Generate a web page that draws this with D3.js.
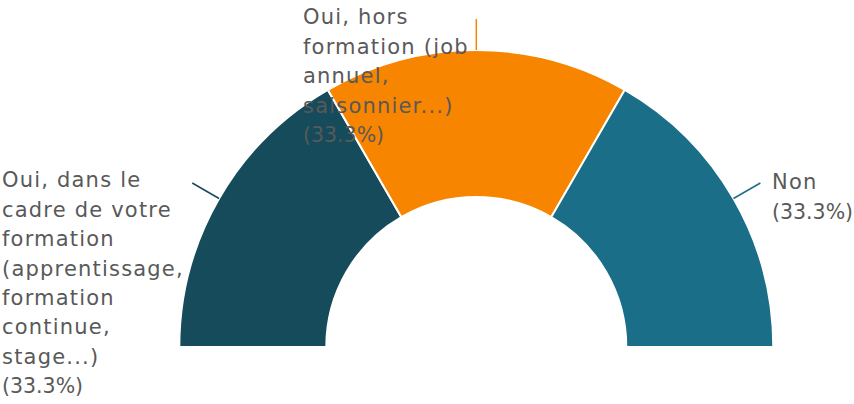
<!DOCTYPE html>
<html><head><meta charset="utf-8">
<script src="https://cdn.jsdelivr.net/npm/d3@7"></script>
<style>html,body{margin:0;padding:0;background:#fff}svg{display:block}</style>
</head><body>
<svg id="c" width="854" height="404"></svg>
<script>
const categories = [
  "Oui, dans le cadre de votre formation (apprentissage, formation continue, stage...)",
  "Oui, hors formation (job annuel, saisonnier...)",
  "Non"
];
const values = [1, 1, 1];
const percentLabels = ["(33.3%)", "(33.3%)", "(33.3%)"];
const labelLines = [
  ["Oui, dans le", "cadre de votre", "formation", "(apprentissage,", "formation", "continue,", "stage...)"],
  ["Oui, hors", "formation (job", "annuel,", "saisonnier...)"],
  ["Non"]
];
const colors = ["#154b5b", "#f88500", "#1b6e88"];

const svg = d3.select("#c");
const cx = 476.3, cy = 347, rOut = 297, rIn = 150;
const g = svg.append("g").attr("transform", `translate(${cx},${cy})`);

const pie = d3.pie().sort(null).value(d => d).startAngle(-Math.PI/2).endAngle(Math.PI/2);
const arcs = pie(values);
const arc = d3.arc().innerRadius(rIn).outerRadius(rOut);

g.selectAll("path.slice").data(arcs).enter().append("path")
  .attr("class","slice")
  .attr("d", arc)
  .attr("fill", (d,i) => colors[i])
  .attr("stroke", "#fff").attr("stroke-width", 2);

const leadLen = 31;
arcs.forEach((d,i) => {
  const a = (d.startAngle + d.endAngle)/2;
  const x0 = rOut*Math.sin(a), y0 = -rOut*Math.cos(a);
  const x1 = (rOut+leadLen)*Math.sin(a), y1 = -(rOut+leadLen)*Math.cos(a);
  g.append("line").attr("x1",x0).attr("y1",y0).attr("x2",x1).attr("y2",y1)
    .attr("stroke", colors[i]).attr("stroke-width", 1.5);
});

const font = "'DejaVu Sans', sans-serif";
const fs = 21, lh = 29.4;
const labelPos = [
  {x: 2, y: 180},
  {x: 303, y: 17},
  {x: 772, y: 182}
];
labelLines.forEach((lines, i) => {
  const t = svg.append("text")
    .attr("font-family", font).attr("font-size", fs).attr("fill", "#595959");
  lines.forEach((ln, j) => {
    t.append("tspan").attr("x", labelPos[i].x).attr("y", labelPos[i].y + j*lh)
      .attr("dy", "0.35em").attr("letter-spacing", 1.2).text(ln);
  });
  t.append("tspan").attr("x", labelPos[i].x).attr("y", labelPos[i].y + lines.length*lh)
    .attr("dy", "0.35em").attr("font-size", 20.5).attr("letter-spacing", 0).text(percentLabels[i]);
});
</script>
</body></html>
